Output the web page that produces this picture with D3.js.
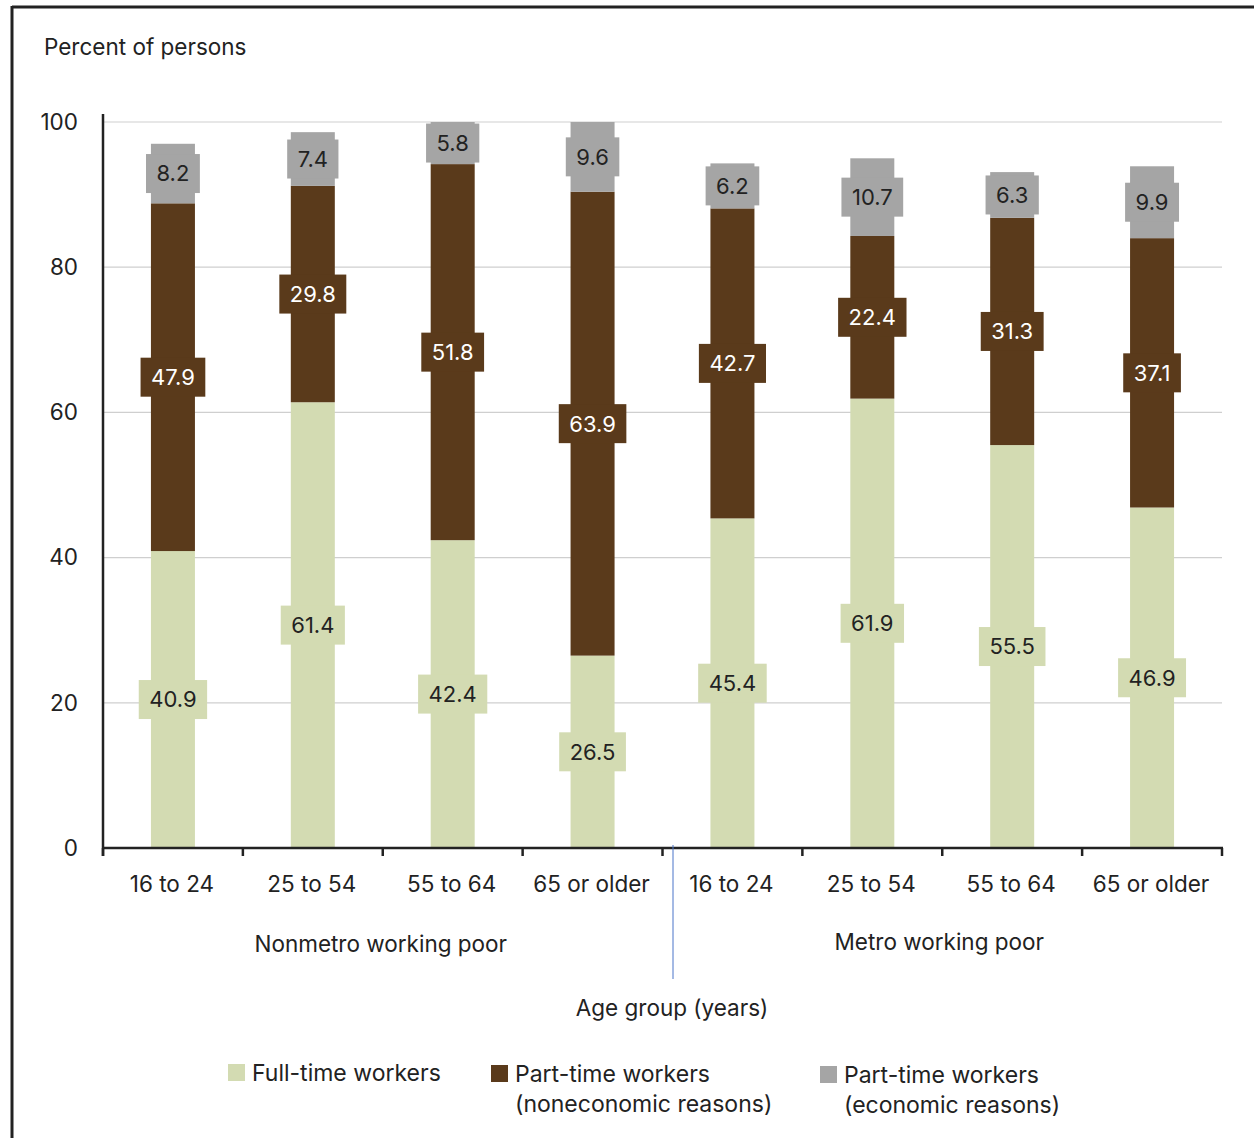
<!DOCTYPE html>
<html>
<head>
<meta charset="utf-8">
<script src="https://cdn.jsdelivr.net/npm/d3@7"></script>
<style>
  html, body { margin: 0; padding: 0; background: #fff; }
  svg text { font-family: Inter, "Open Sans", sans-serif; fill: #222; }
</style>
</head>
<body>
<svg id="chart" width="1254" height="1138"></svg>
<script>
// Age groups, grouped by residence
const categories = ["16 to 24", "25 to 54", "55 to 64", "65 or older",
                    "16 to 24", "25 to 54", "55 to 64", "65 or older"];
const groups = ["Nonmetro working poor", "Metro working poor"];

// Percent of persons in each work status
const fullTime         = [40.9, 61.4, 42.4, 26.5, 45.4, 61.9, 55.5, 46.9];
const partTimeNonecon  = [47.9, 29.8, 51.8, 63.9, 42.7, 22.4, 31.3, 37.1];
const partTimeEcon     = [8.2, 7.4, 5.8, 9.6, 6.2, 10.7, 6.3, 9.9];

const yTicks = [0, 20, 40, 60, 80, 100];

const seriesNames = ["Full-time workers",
                     "Part-time workers\n(noneconomic reasons)",
                     "Part-time workers\n(economic reasons)"];
const seriesColors = ["#d3dbb2", "#5a3a1b", "#a5a5a5"];
const labelColors = ["#222", "#fff", "#222"];

const svg = d3.select("#chart");

// Frame
svg.append("line").attr("x1", 12).attr("x2", 1254).attr("y1", 7).attr("y2", 7)
  .attr("stroke", "#222").attr("stroke-width", 3);
svg.append("line").attr("x1", 12).attr("x2", 12).attr("y1", 6).attr("y2", 1138)
  .attr("stroke", "#222").attr("stroke-width", 3);

const plot = { left: 103, right: 1222, top: 122, bottom: 848 };

const x = d3.scaleBand().domain(d3.range(categories.length))
  .range([plot.left, plot.right]).paddingInner(0).paddingOuter(0);
const y = d3.scaleLinear().domain([0, 100]).range([plot.bottom, plot.top]);
const barW = 44;
const fs = 22.5;

// Gridlines
svg.append("g").selectAll("line").data(yTicks.filter(d => d > 0)).join("line")
  .attr("x1", plot.left).attr("x2", plot.right)
  .attr("y1", d => y(d)).attr("y2", d => y(d))
  .attr("stroke", "#cfcfcf").attr("stroke-width", 1.2);

// Y tick labels
svg.append("g").selectAll("text").data(yTicks).join("text")
  .attr("x", 78).attr("y", d => y(d)).attr("dy", "0.35em")
  .attr("text-anchor", "end").attr("font-size", fs).text(d => d);

svg.append("text").attr("x", 44).attr("y", 55).attr("font-size", fs)
  .text("Percent of persons");

// Stacked bars
const rows = categories.map((c, i) => ({ i, v: [fullTime[i], partTimeNonecon[i], partTimeEcon[i]] }));
const stacks = [];
rows.forEach(r => {
  let base = 0;
  r.v.forEach((v, s) => {
    stacks.push({ i: r.i, s, v, y0: base, y1: base + v });
    base += v;
  });
});

const barG = svg.append("g");
barG.selectAll("rect").data(stacks).join("rect")
  .attr("x", d => x(d.i) + x.bandwidth() / 2 - barW / 2)
  .attr("width", barW)
  .attr("y", d => y(d.y1))
  .attr("height", d => y(d.y0) - y(d.y1))
  .attr("fill", d => seriesColors[d.s]);

// Value labels in boxes of segment colour
const labG = svg.append("g");
stacks.forEach(d => {
  const cx = x(d.i) + x.bandwidth() / 2;
  const cy = y((d.y0 + d.y1) / 2);
  const g = labG.append("g");
  const t = g.append("text").attr("x", cx).attr("y", cy).attr("dy", "0.36em")
    .attr("text-anchor", "middle").attr("font-size", 22)
    .style("fill", labelColors[d.s]).text(d.v.toFixed(1));
  const w = t.node().getComputedTextLength() + 21;
  g.insert("rect", "text").attr("x", cx - w / 2).attr("width", w)
    .attr("y", cy - 19.5).attr("height", 39).attr("fill", seriesColors[d.s]);
});

// X axis
const xAxisG = svg.append("g");
xAxisG.append("line").attr("x1", plot.left - 1).attr("x2", plot.right + 1)
  .attr("y1", plot.bottom).attr("y2", plot.bottom).attr("stroke", "#222").attr("stroke-width", 2.5);
const edges = d3.range(categories.length + 1).map(i => i < categories.length ? x(i) : plot.right);
xAxisG.selectAll("line.tick").data(edges).join("line").attr("class", "tick")
  .attr("x1", d => d).attr("x2", d => d).attr("y1", plot.bottom).attr("y2", plot.bottom + 8)
  .attr("stroke", "#222").attr("stroke-width", 2.5);
xAxisG.selectAll("text").data(categories).join("text")
  .attr("x", (d, i) => x(i) + x.bandwidth() / 2 - 1).attr("y", 892)
  .attr("text-anchor", "middle").attr("font-size", fs).text(d => d);

// Y axis line
svg.append("line").attr("x1", plot.left).attr("x2", plot.left)
  .attr("y1", 114).attr("y2", plot.bottom + 8).attr("stroke", "#222").attr("stroke-width", 2.5);

// Group labels
svg.append("text").attr("x", x(0) + 2 * x.bandwidth() - 2).attr("y", 952)
  .attr("text-anchor", "middle").attr("font-size", fs).text(groups[0]);
svg.append("text").attr("x", x(4) + 2 * x.bandwidth() - 3).attr("y", 950)
  .attr("text-anchor", "middle").attr("font-size", fs).text(groups[1]);

// Group divider
svg.append("line").attr("x1", 673).attr("x2", 673).attr("y1", 845).attr("y2", 979)
  .attr("stroke", "#4a74c9").attr("stroke-width", 1);

svg.append("text").attr("x", 672).attr("y", 1016).attr("text-anchor", "middle")
  .attr("font-size", fs).text("Age group (years)");

// Legend
const legendPos = [{ x: 228, y: 1064 }, { x: 491, y: 1065 }, { x: 820, y: 1066 }];
seriesNames.forEach((name, s) => {
  const p = legendPos[s];
  svg.append("rect").attr("x", p.x).attr("y", p.y).attr("width", 17).attr("height", 17)
    .attr("fill", seriesColors[s]);
  const t = svg.append("text").attr("x", p.x + 24).attr("y", p.y + 17).attr("font-size", 23);
  name.split("\n").forEach((line, k) => {
    t.append("tspan").attr("x", p.x + 24).attr("dy", k === 0 ? 0 : 30).text(line);
  });
});
</script>
</body>
</html>
